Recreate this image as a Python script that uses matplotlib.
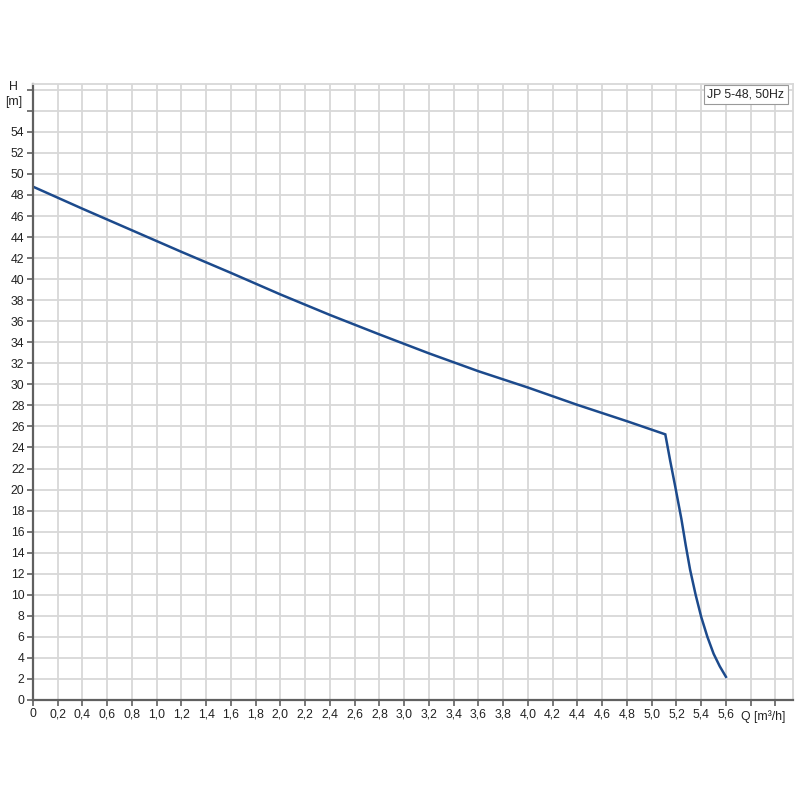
"""Pump curve JP 5-48, 50Hz"""

import numpy as np
import matplotlib.pyplot as plt

plt.rcParams['font.family'] = ['Liberation Sans', 'DejaVu Sans']

# curve: flow Q [m3/h], head H [m]
q_vals = [0, 0.4, 0.8, 1.2, 1.6, 2.0, 2.4, 2.8, 3.2, 3.6, 4.0, 4.4, 4.8, 5.11,
          5.15, 5.19, 5.24, 5.275, 5.31, 5.355, 5.40, 5.45, 5.50, 5.55, 5.60]
h_vals = [48.8, 46.7, 44.65, 42.6, 40.6, 38.55, 36.6, 34.75, 32.95, 31.25, 29.7,
          28.05, 26.5, 25.25, 22.7, 20.3, 17.2, 14.7, 12.4, 10.0, 7.9, 6.0, 4.4,
          3.2, 2.2]

x_ticks = np.round(np.arange(0, 6.01, 0.2), 1)
y_ticks = np.arange(0, 59, 2)
x_labels = [f'{v:.1f}'.replace('.', ',') if v <= 5.6 else '' for v in x_ticks]
x_labels[0] = '0'
y_labels = [str(v) if v <= 54 else '' for v in y_ticks]

label = 'JP 5-48, 50Hz'

fig = plt.figure(figsize=(8, 8), dpi=100)
ax = fig.add_axes([0.041, 0.125, 0.950, 0.770])

ax.plot(q_vals, h_vals, color='#1c4a8c', lw=1.8, solid_joinstyle='miter')

ax.set_xlim(0, 6.14)
ax.set_ylim(0, 58.55)
ax.set_xticks(x_ticks)
ax.set_xticklabels(x_labels)
ax.set_yticks(y_ticks)
ax.set_yticklabels(y_labels)
ax.grid(True, color='#d8d8d8', lw=1.3)
ax.set_axisbelow(True)

for s in ['top', 'right']:
    ax.spines[s].set_color('#d8d8d8')
    ax.spines[s].set_linewidth(1.3)
for s in ['left', 'bottom']:
    ax.spines[s].set_color('#606060')
    ax.spines[s].set_linewidth(1.6)

ax.tick_params(axis='both', colors='#606060', labelcolor='#222222',
               labelsize=8.8, length=4, width=1.2, pad=2)

ax.text(5.9, -1.0, 'Q [m³/h]', ha='center', va='top', fontsize=8.8, color='#222222')
fig.text(0.0165, 0.891, 'H', ha='center', va='center', fontsize=8.8, color='#222222')
fig.text(0.0165, 0.873, '[m]', ha='center', va='center', fontsize=8.8, color='#222222')

ax.text(0.989, 0.993, label, transform=ax.transAxes, ha='right', va='top',
        fontsize=8.8, color='#222222',
        bbox=dict(boxstyle='square,pad=0.3', fc='white', ec='#999999', lw=0.8))

plt.savefig('out.png', dpi=100)
